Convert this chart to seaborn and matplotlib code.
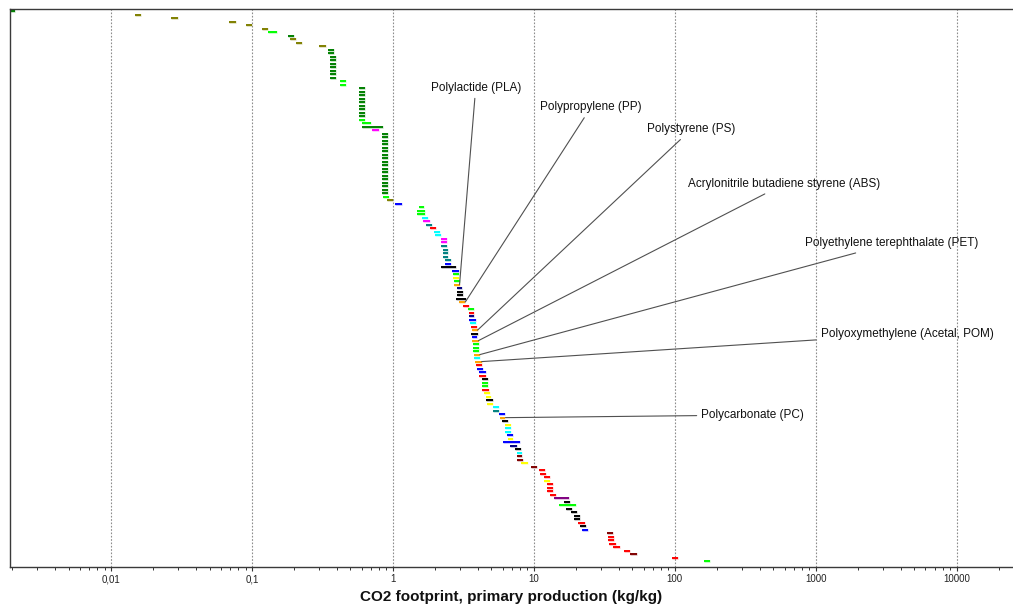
import numpy as np
import pandas as pd
import matplotlib
matplotlib.use("Agg")
import matplotlib.pyplot as plt
import matplotlib.ticker as mticker
import matplotlib.patheffects as pe
import seaborn as sns

# ---------------- data ----------------
lo = [0.0019, 0.0147, 0.0268, 0.069, 0.090, 0.118, 0.130, 0.181, 0.186, 0.206,
      0.300, 0.346, 0.346, 0.359, 0.359, 0.359, 0.359, 0.359, 0.359, 0.359,
      0.419, 0.419, 0.571, 0.571, 0.571, 0.571, 0.571, 0.571, 0.571, 0.571,
      0.571, 0.571, 0.600, 0.600, 0.713, 0.840, 0.840, 0.840, 0.840, 0.840,
      0.840, 0.840, 0.840, 0.840, 0.840, 0.840, 0.840, 0.840, 0.840, 0.840,
      0.840, 0.840, 0.840, 0.855, 0.902, 1.04, 1.52, 1.49, 1.49, 1.60,
      1.64, 1.71, 1.82, 1.95, 2.00, 2.20, 2.20, 2.20, 2.25, 2.25,
      2.25, 2.36, 2.36, 2.20, 2.62, 2.66, 2.66, 2.70, 2.70, 2.83,
      2.86, 2.86, 2.78, 2.95, 3.14, 3.40, 3.45, 3.45, 3.48, 3.52,
      3.57, 3.63, 3.57, 3.63, 3.63, 3.67, 3.67, 3.67, 3.75, 3.75,
      3.83, 3.88, 3.92, 4.10, 4.10, 4.28, 4.28, 4.28, 4.32, 4.42,
      4.56, 4.59, 4.66, 5.12, 5.14, 5.67, 5.74, 5.92, 6.23, 6.23,
      6.23, 6.46, 6.53, 6.06, 6.76, 7.30, 7.54, 7.54, 7.60, 8.13,
      9.48, 10.9, 11.0, 11.8, 11.8, 12.4, 12.4, 12.4, 13.0, 13.9,
      16.3, 15.0, 16.9, 18.3, 19.2, 19.2, 20.6, 21.2, 21.9, 32.8,
      33.6, 33.6, 34.4, 36.7, 43.7, 48.2, 94.8, 160.6]
hi = [0.0021, 0.0164, 0.0297, 0.077, 0.100, 0.130, 0.150, 0.200, 0.206, 0.226,
      0.335, 0.382, 0.382, 0.396, 0.396, 0.396, 0.396, 0.396, 0.396, 0.396,
      0.462, 0.462, 0.633, 0.633, 0.633, 0.633, 0.633, 0.633, 0.633, 0.633,
      0.633, 0.633, 0.698, 0.854, 0.796, 0.927, 0.927, 0.927, 0.927, 0.927,
      0.927, 0.927, 0.927, 0.927, 0.927, 0.927, 0.927, 0.927, 0.927, 0.927,
      0.927, 0.927, 0.927, 0.937, 1.00, 1.16, 1.67, 1.69, 1.69, 1.76,
      1.82, 1.88, 2.02, 2.17, 2.20, 2.40, 2.40, 2.42, 2.47, 2.47,
      2.47, 2.59, 2.60, 2.78, 2.92, 2.92, 2.95, 2.97, 2.97, 3.10,
      3.12, 3.12, 3.29, 3.26, 3.46, 3.77, 3.77, 3.77, 3.86, 3.88,
      3.92, 3.99, 3.99, 3.97, 4.05, 4.07, 4.07, 4.07, 4.14, 4.14,
      4.26, 4.30, 4.37, 4.56, 4.56, 4.69, 4.69, 4.69, 4.77, 4.85,
      5.00, 5.10, 5.12, 5.62, 5.67, 6.23, 6.29, 6.52, 6.86, 6.90,
      6.90, 7.08, 7.15, 7.95, 7.54, 8.05, 8.26, 8.30, 8.40, 9.07,
      10.45, 12.0, 12.1, 13.0, 13.1, 13.6, 13.6, 13.6, 14.3, 17.8,
      18.1, 19.8, 18.5, 20.1, 21.1, 21.1, 22.9, 23.3, 24.3, 36.2,
      36.8, 36.8, 38.0, 40.7, 48.2, 53.7, 104.5, 177.0]
group = ["green", "olive", "olive", "olive", "olive", "olive", "lime", "green", "olive", "olive",
         "olive", "green", "green", "green", "green", "green", "green", "green", "green", "green",
         "lime", "lime", "green", "green", "green", "green", "green", "green", "green", "green",
         "green", "lime", "lime", "green", "magenta", "green", "green", "green", "green", "green",
         "green", "green", "green", "green", "green", "green", "green", "green", "green", "green",
         "green", "green", "green", "lime", "olive", "blue", "lime", "lime", "lime", "cyan",
         "magenta", "teal", "red", "cyan", "cyan", "magenta", "magenta", "teal", "teal", "teal",
         "teal", "teal", "blue", "black", "blue", "lime", "yellow", "lime", "orange", "navy",
         "black", "black", "black", "orange", "red", "lime", "red", "navy", "blue", "cyan",
         "red", "orange", "black", "blue", "orange", "lime", "lime", "lime", "orange", "cyan",
         "orange", "red", "blue", "blue", "red", "black", "lime", "lime", "red", "yellow",
         "yellow", "black", "yellow", "cyan", "teal", "blue", "orange", "black", "yellow", "cyan",
         "cyan", "blue", "yellow", "blue", "navy", "black", "cyan", "maroon", "maroon", "yellow",
         "maroon", "red", "red", "red", "yellow", "red", "red", "red", "red", "purple",
         "black", "lime", "black", "black", "black", "black", "red", "black", "blue", "maroon",
         "red", "red", "red", "red", "red", "maroon", "red", "lime"]

labels = ["Polylactide (PLA)", "Polypropylene (PP)", "Polystyrene (PS)",
          "Acrylonitrile butadiene styrene (ABS)", "Polyethylene terephthalate (PET)",
          "Polyoxymethylene (Acetal, POM)", "Polycarbonate (PC)"]
label_rows = [78, 83, 91, 94, 98, 100, 116]

tick_values = [0.01, 0.1, 1, 10, 100, 1000, 10000]
tick_labels = ["0,01", "0,1", "1", "10", "100", "1000", "10000"]

palette = {"olive": "#808000", "lime": "#00ff00", "green": "#008000", "magenta": "#ff00ff",
           "blue": "#0000ff", "cyan": "#00ffff", "teal": "#008080", "red": "#ff0000",
           "black": "#000000", "yellow": "#ffff00", "orange": "#ffa500", "navy": "#000080",
           "maroon": "#800000", "purple": "#800080"}

# ---------------- figure ----------------
sns.set_style("white")
plt.rcParams["font.family"] = ["Liberation Sans", "DejaVu Sans"]

fig = plt.figure(figsize=(10.13, 6.05), dpi=100)
ax = fig.add_axes([10.3 / 1013, 1 - 567.3 / 605, (1012.7 - 10.3) / 1013, (567.3 - 9.3) / 605])
ax.set_xscale("log")

rows = np.arange(len(lo))
df = pd.DataFrame({
    "row": np.concatenate([rows, rows]),
    "value": np.concatenate([lo, hi]),
    "group": group + group,
    "order": [0] * len(lo) + [1] * len(hi),
}).sort_values(["row", "order"])

sns.lineplot(data=df, x="value", y="row", hue="group", units="row", estimator=None,
             sort=False, orient="y", palette=palette, legend=False, ax=ax,
             linewidth=1.4, solid_capstyle="butt",
             path_effects=[pe.Stroke(linewidth=2.0, alpha=0.25), pe.Normal()])

ax.set_xlim(0.00193, 24950)
ax.set_ylim(158.72, -0.571)

# annotations
text_pos = [(0.4643, 0.8595), (0.5793, 0.8244), (0.6794, 0.7849), (0.7720, 0.6869),
            (0.8789, 0.5806), (0.8946, 0.4181), (0.7407, 0.2729)]
for lab, r, (tx, ty) in zip(labels, label_rows, text_pos):
    ax.annotate(lab, xy=(hi[r], r), xycoords="data", xytext=(tx, ty),
                textcoords="axes fraction", ha="center", va="center", fontsize=8.5,
                color="#111111",
                arrowprops=dict(arrowstyle="-", color="#505050", lw=0.8,
                                shrinkA=1, shrinkB=0))

# axes styling
ax.set_xticks(tick_values)
ax.set_xticklabels(tick_labels)
ax.xaxis.set_minor_locator(mticker.LogLocator(base=10, subs=np.arange(2, 10)))
ax.xaxis.set_minor_formatter(mticker.NullFormatter())
ax.tick_params(axis="x", which="major", bottom=True, direction="out", length=3, width=0.8,
               color="#333333", labelsize=7, pad=2, labelcolor="#222222")
ax.tick_params(axis="x", which="minor", bottom=True, direction="out", length=2.5, width=0.7,
               color="#333333")
ax.tick_params(axis="y", left=False, labelleft=False)
ax.set_yticks([])
ax.xaxis.grid(True, which="major", linestyle=(0, (1.5, 1.5)), color="#8c8c8c", lw=0.8)
ax.yaxis.grid(False)
ax.set_axisbelow(True)

for s in ["left", "top", "bottom"]:
    ax.spines[s].set_color("#3a3a3a")
    ax.spines[s].set_linewidth(1.0)
ax.spines["right"].set_visible(False)

ax.set_ylabel("")
ax.set_xlabel("CO2 footprint, primary production (kg/kg)", fontsize=11,
              fontweight="bold", labelpad=4, color="#111111")

fig.savefig("out.png", dpi=100)
